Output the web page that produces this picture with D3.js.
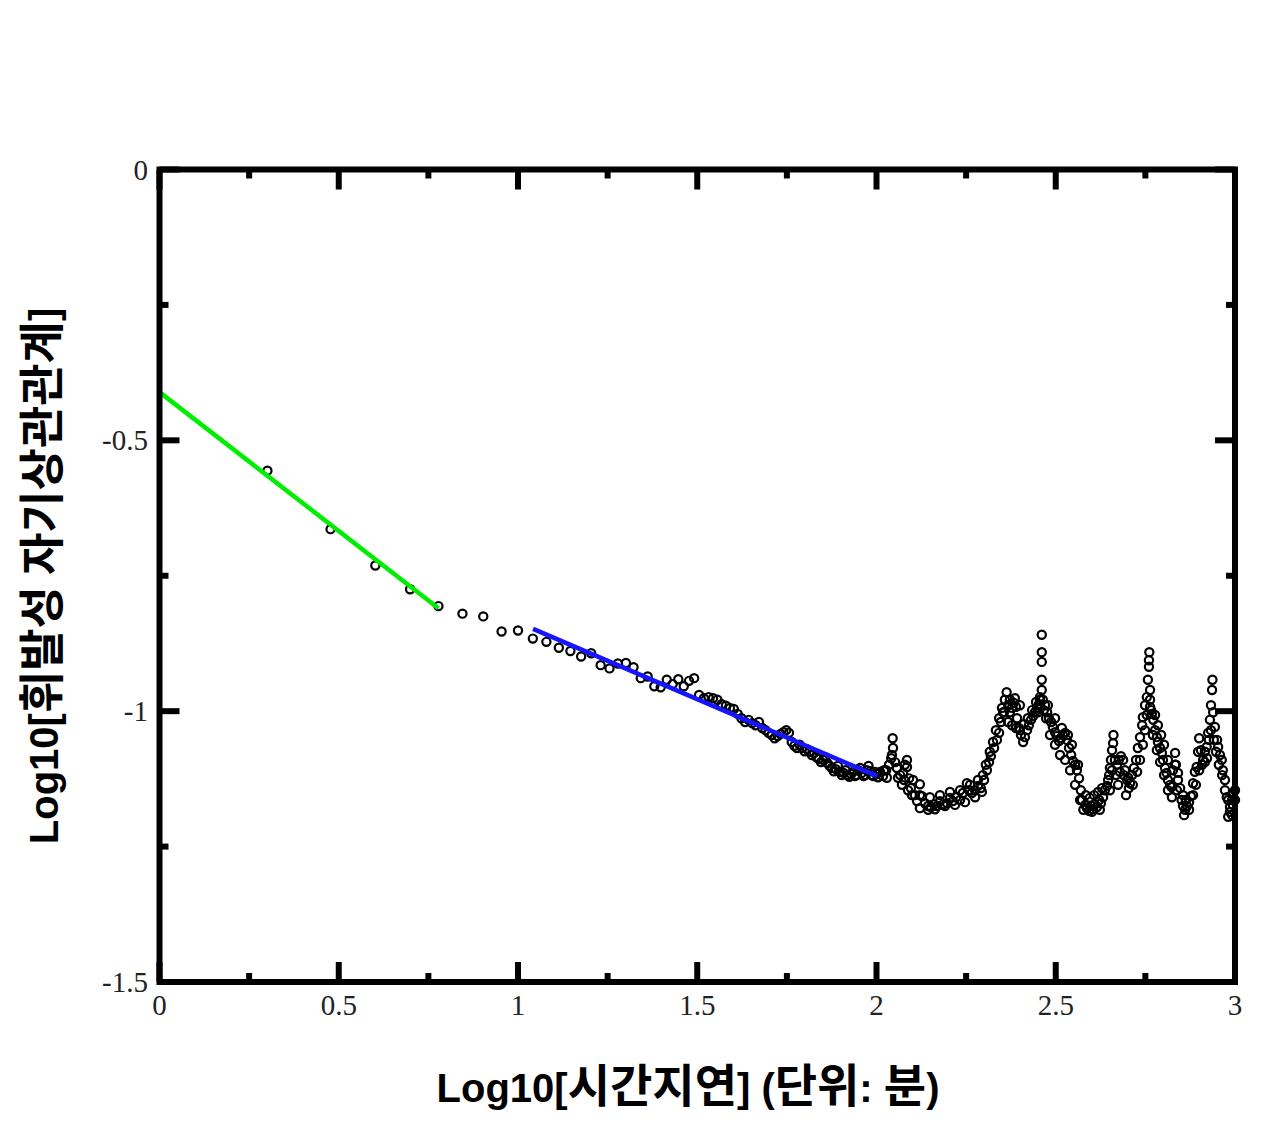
<!DOCTYPE html>
<html>
<head>
<meta charset="utf-8">
<script src="https://cdn.jsdelivr.net/npm/d3@7/dist/d3.min.js"></script>
<style>
  html, body { margin: 0; padding: 0; background: #fff; }
  svg { display: block; }
</style>
</head>
<body>
<svg id="chart" width="1280" height="1134"></svg>
<script>
// ---------------- data ----------------
// lags 2..100 (minutes) : log10 autocorrelation of volatility
const lagStart = 2;
const acfEarly = [
  -0.556, -0.664, -0.731, -0.775, -0.806, -0.820, -0.825, -0.853, -0.851,
  -0.866, -0.872, -0.883, -0.889, -0.899, -0.893, -0.915, -0.921, -0.912, -0.911,
  -0.919, -0.939, -0.936, -0.954, -0.956, -0.942, -0.950, -0.941, -0.954, -0.944,
  -0.939, -0.970, -0.976, -0.974, -0.976, -0.979, -0.987, -0.990, -0.994, -0.996,
  -1.005, -1.013, -1.020, -1.016, -1.022, -1.026, -1.020, -1.031, -1.035, -1.040,
  -1.044, -1.050, -1.046, -1.042, -1.039, -1.035, -1.040, -1.057, -1.064, -1.068,
  -1.062, -1.068, -1.074, -1.070, -1.075, -1.081, -1.077, -1.085, -1.088, -1.094,
  -1.090, -1.085, -1.096, -1.101, -1.105, -1.111, -1.107, -1.101, -1.112, -1.118,
  -1.114, -1.109, -1.118, -1.121, -1.116, -1.112, -1.120, -1.118, -1.109, -1.105,
  -1.114, -1.120, -1.118, -1.109, -1.101, -1.111, -1.118, -1.120, -1.112, -1.116
];
// lags > 100 : log10(lag) and log10(acf) (centre of the band)
const logLagLate = [
  2.010, 2.018, 2.027, 2.035, 2.041, 2.045, 2.046, 2.043, 2.052, 2.057, 2.066, 2.071, 2.074, 2.079,
  2.085, 2.085, 2.091, 2.096, 2.102, 2.107, 2.113, 2.121, 2.127, 2.135, 2.144, 2.152, 2.161, 2.169,
  2.177, 2.186, 2.197, 2.205, 2.213, 2.222, 2.233, 2.241, 2.252, 2.258, 2.266, 2.275, 2.283, 2.291,
  2.300, 2.308, 2.314, 2.319, 2.328, 2.336, 2.342, 2.347, 2.353, 2.358, 2.363, 2.367, 2.372, 2.378,
  2.383, 2.389, 2.392, 2.397, 2.403, 2.409, 2.414, 2.420, 2.425, 2.431, 2.437, 2.442, 2.448, 2.453,
  2.456, 2.461, 2.461, 2.461, 2.461, 2.461, 2.464, 2.470, 2.476, 2.481, 2.487, 2.492, 2.498, 2.503,
  2.509, 2.515, 2.520, 2.526, 2.531, 2.537, 2.543, 2.548, 2.554, 2.559, 2.565, 2.570, 2.573, 2.577,
  2.582, 2.587, 2.593, 2.598, 2.604, 2.609, 2.615, 2.621, 2.626, 2.632, 2.637, 2.643, 2.649, 2.651,
  2.654, 2.657, 2.661, 2.660, 2.665, 2.671, 2.676, 2.682, 2.688, 2.693, 2.699, 2.704, 2.707, 2.713,
  2.718, 2.724, 2.729, 2.735, 2.741, 2.743, 2.749, 2.754, 2.757, 2.760, 2.761, 2.760, 2.763, 2.763,
  2.768, 2.772, 2.777, 2.782, 2.785, 2.791, 2.796, 2.799, 2.805, 2.809, 2.813, 2.819, 2.823, 2.827,
  2.833, 2.835, 2.841, 2.847, 2.851, 2.855, 2.861, 2.866, 2.872, 2.877, 2.883, 2.888, 2.893, 2.897,
  2.900, 2.905, 2.911, 2.916, 2.921, 2.925, 2.930, 2.933, 2.937, 2.936, 2.939, 2.944, 2.950, 2.953,
  2.958, 2.963, 2.966, 2.972, 2.977, 2.981, 2.986, 2.992, 2.995, 3.000
];
const acfLate = [
  -1.112, -1.120, -1.109, -1.099, -1.087, -1.050, -1.068, -1.081, -1.094, -1.105, -1.118, -1.136, -1.114, -1.099,
  -1.090, -1.103, -1.124, -1.142, -1.127, -1.155, -1.166, -1.135, -1.157, -1.170, -1.175, -1.177, -1.172, -1.175,
  -1.166, -1.172, -1.170, -1.160, -1.166, -1.159, -1.164, -1.151, -1.133, -1.146, -1.151, -1.146, -1.138, -1.142,
  -1.127, -1.109, -1.094, -1.083, -1.068, -1.053, -1.040, -1.020, -1.002, -0.979, -0.965, -0.989, -1.002, -0.994,
  -0.985, -0.992, -1.013, -1.031, -1.044, -1.057, -1.048, -1.035, -1.026, -1.016, -1.009, -1.002, -0.994, -0.987,
  -0.974, -0.961, -0.942, -0.909, -0.891, -0.859, -0.979, -0.989, -1.002, -1.013, -1.020, -1.029, -1.039, -1.046,
  -1.055, -1.050, -1.044, -1.040, -1.053, -1.068, -1.081, -1.092, -1.099, -1.109, -1.124, -1.146, -1.164, -1.182,
  -1.173, -1.179, -1.184, -1.175, -1.181, -1.172, -1.177, -1.164, -1.170, -1.159, -1.146, -1.138, -1.118, -1.105,
  -1.090, -1.072, -1.044, -1.059, -1.090, -1.099, -1.090, -1.083, -1.090, -1.109, -1.127, -1.142, -1.133, -1.118,
  -1.105, -1.090, -1.068, -1.048, -1.026, -1.011, -0.989, -0.974, -0.942, -0.918, -0.891, -0.906, -0.961, -0.992,
  -1.005, -1.016, -1.035, -1.048, -1.057, -1.068, -1.077, -1.090, -1.105, -1.114, -1.127, -1.136, -1.140, -1.109,
  -1.077, -1.099, -1.114, -1.142, -1.164, -1.175, -1.182, -1.175, -1.168, -1.157, -1.133, -1.112, -1.103, -1.075,
  -1.050, -1.072, -1.090, -1.075, -1.066, -1.040, -1.016, -0.989, -0.942, -0.961, -1.002, -1.029, -1.053, -1.066,
  -1.081, -1.090, -1.109, -1.127, -1.159, -1.195, -1.177, -1.164, -1.151, -1.164
];
// lags > 100 : further points read at the upper / lower edges of the dense band
const logLagBand = [
  2.004, 2.021, 2.029, 2.060, 2.077, 2.088, 2.099,
  2.121, 2.149, 2.177, 2.205, 2.233, 2.261, 2.283,
  2.121, 2.144, 2.163, 2.191, 2.219, 2.247, 2.275, 2.294,
  2.297, 2.305, 2.316, 2.325, 2.333, 2.342, 2.350,
  2.356, 2.367, 2.378, 2.389, 2.400, 2.372, 2.386, 2.400,
  2.411, 2.422, 2.434, 2.445, 2.456, 2.467, 2.473, 2.450,
  2.478, 2.498, 2.517, 2.534, 2.545, 2.562,
  2.484, 2.498, 2.512, 2.526, 2.540, 2.554, 2.568,
  2.584, 2.595, 2.607, 2.618, 2.629, 2.601, 2.623,
  2.646, 2.657, 2.668, 2.679, 2.690, 2.702, 2.651, 2.674, 2.696,
  2.715, 2.727, 2.735, 2.743, 2.749, 2.754, 2.763, 2.766,
  2.777, 2.785, 2.794, 2.802, 2.813, 2.771, 2.782, 2.791, 2.802, 2.813, 2.824,
  2.833, 2.841, 2.838, 2.855, 2.863, 2.872, 2.858,
  2.883, 2.891, 2.900, 2.908, 2.916, 2.922, 2.927, 2.933,
  2.941, 2.947, 2.955, 2.964, 2.972, 2.981, 2.986, 2.994, 3.000, 2.992
];
const acfBand = [
  -1.122, -1.109, -1.123, -1.123, -1.127, -1.146, -1.155,
  -1.155, -1.159, -1.155, -1.149, -1.146, -1.136, -1.127,
  -1.179, -1.182, -1.181, -1.175, -1.173, -1.168, -1.159, -1.149,
  -1.118, -1.099, -1.075, -1.057, -1.035, -1.013, -0.994,
  -1.002, -1.020, -1.026, -1.031, -1.035, -0.979, -0.976, -0.989,
  -1.024, -1.013, -0.998, -0.983, -0.979, -0.998, -1.013, -1.002,
  -0.989, -1.013, -1.031, -1.044, -1.062, -1.099,
  -1.044, -1.062, -1.081, -1.090, -1.109, -1.136, -1.164,
  -1.155, -1.160, -1.155, -1.149, -1.142, -1.186, -1.182,
  -1.127, -1.109, -1.118, -1.112, -1.118, -1.123, -1.146, -1.136, -1.155,
  -1.136, -1.112, -1.090, -1.062, -1.035, -1.007, -0.979, -0.998,
  -1.007, -1.026, -1.044, -1.062, -1.090, -1.044, -1.072, -1.094, -1.118, -1.146, -1.159,
  -1.099, -1.127, -1.146, -1.155, -1.164, -1.182, -1.192,
  -1.155, -1.136, -1.109, -1.099, -1.094, -1.087, -1.053, -1.035,
  -1.053, -1.075, -1.099, -1.118, -1.146, -1.164, -1.186, -1.173, -1.146, -1.192
];
// fitted lines (endpoints, log units)
const greenFitX = [0, 0.778];
const greenFitY = [-0.411, -0.810];
const blueFitX = [1.042, 2.002];
const blueFitY = [-0.848, -1.120];

const xTickValues = [0, 0.25, 0.5, 0.75, 1, 1.25, 1.5, 1.75, 2, 2.25, 2.5, 2.75, 3];
const xTickLabels = ["0", "0.5", "1", "1.5", "2", "2.5", "3"];
const yTickValues = [0, -0.25, -0.5, -0.75, -1, -1.25, -1.5];
const yTickLabels = ["0", "-0.5", "-1", "-1.5"];

// ---------------- chart ----------------
const svg = d3.select("#chart");
const x = d3.scaleLinear().domain([0, 3]).range([159.5, 1235]);
const y = d3.scaleLinear().domain([-1.5, 0]).range([982, 169.5]);

const points = [];
acfEarly.forEach((v, i) => points.push([Math.log10(lagStart + i), v]));
logLagLate.forEach((lx, i) => points.push([lx, acfLate[i]]));
logLagBand.forEach((lx, i) => points.push([lx, acfBand[i]]));

// points
svg.append("g").selectAll("circle").data(points).join("circle")
  .attr("cx", d => x(d[0])).attr("cy", d => y(d[1])).attr("r", 4.1)
  .attr("fill", "none").attr("stroke", "#000").attr("stroke-width", 2.2);

// fit lines
const line = d3.line().x(d => x(d[0])).y(d => y(d[1]));
svg.append("path").datum(greenFitX.map((v, i) => [v, greenFitY[i]]))
  .attr("d", line).attr("stroke", "#00ee00").attr("stroke-width", 4.5).attr("fill", "none");
svg.append("path").datum(blueFitX.map((v, i) => [v, blueFitY[i]]))
  .attr("d", line).attr("stroke", "#1515ff").attr("stroke-width", 4.5).attr("fill", "none");

// frame
svg.append("rect")
  .attr("x", x(0)).attr("y", y(0))
  .attr("width", x(3) - x(0)).attr("height", y(-1.5) - y(0))
  .attr("fill", "none").attr("stroke", "#000").attr("stroke-width", 6);

// ticks (inward, all four sides)
const isMajor = v => Math.abs(v * 2 - Math.round(v * 2)) < 1e-9;
const tg = svg.append("g").attr("stroke", "#000").attr("stroke-width", 6);
xTickValues.forEach(v => {
  const L = isMajor(v) ? 20 : 9;
  tg.append("line").attr("x1", x(v)).attr("x2", x(v)).attr("y1", y(-1.5)).attr("y2", y(-1.5) - L);
  tg.append("line").attr("x1", x(v)).attr("x2", x(v)).attr("y1", y(0)).attr("y2", y(0) + L);
});
yTickValues.forEach(v => {
  const L = isMajor(v) ? 20 : 9;
  tg.append("line").attr("y1", y(v)).attr("y2", y(v)).attr("x1", x(0)).attr("x2", x(0) + L);
  tg.append("line").attr("y1", y(v)).attr("y2", y(v)).attr("x1", x(3)).attr("x2", x(3) - L);
});

// tick labels
const labelFont = "'Liberation Serif', 'Times New Roman', serif";
svg.append("g").selectAll("text").data(xTickLabels).join("text")
  .attr("x", d => x(+d)).attr("y", 1015)
  .attr("text-anchor", "middle").attr("font-family", labelFont).attr("font-size", 29)
  .attr("fill", "#222").text(d => d);
svg.append("g").selectAll("text").data(yTickLabels).join("text")
  .attr("x", 148).attr("y", d => y(+d)).attr("dy", "0.35em")
  .attr("text-anchor", "end").attr("font-family", labelFont).attr("font-size", 29)
  .attr("fill", "#222").text(d => d);

// axis titles
function title(sel, parts) {
  parts.forEach(p => {
    sel.append("tspan").text(p[0])
      .attr("font-family", p[1] ? "'Noto Sans CJK KR', sans-serif" : "'Liberation Sans', Arial, sans-serif")
      .attr("font-size", p[1] ? 46 : 40);
  });
}
const xt = svg.append("text").attr("x", 688).attr("y", 1102)
  .attr("text-anchor", "middle").attr("font-weight", "bold").attr("fill", "#000");
title(xt, [["Log10[", 0], ["시간지연", 1], ["] (", 0], ["단위", 1], [": ", 0], ["분", 1], [")", 0]]);

const yt = svg.append("text")
  .attr("transform", "translate(58,576) rotate(-90)")
  .attr("text-anchor", "middle").attr("font-weight", "bold").attr("fill", "#000");
title(yt, [["Log10[", 0], ["휘발성", 1], [" ", 0], ["자기상관관계", 1], ["]", 0]]);
</script>
</body>
</html>
